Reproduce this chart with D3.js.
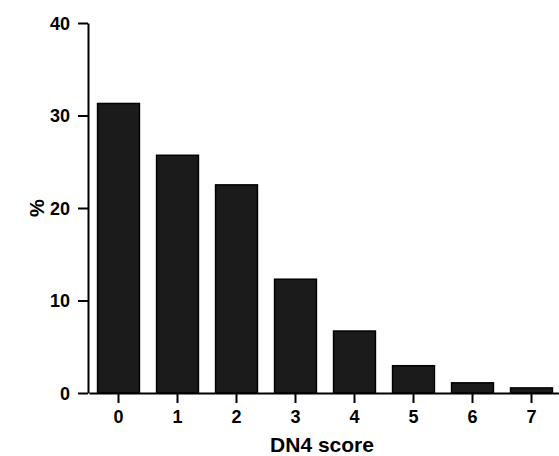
<!DOCTYPE html>
<html>
<head>
<meta charset="utf-8">
<script src="https://cdn.jsdelivr.net/npm/d3@7"></script>
<style>
  body { margin: 0; background: #fff; }
  svg text { font-family: "Liberation Sans", Arial, sans-serif; font-weight: bold; fill: #000; }
  .axis path, .axis line { stroke: #000; stroke-width: 2; }
</style>
</head>
<body>
<svg id="chart" width="559" height="456"></svg>
<script>
// DN4 score distribution
var scores = ["0", "1", "2", "3", "4", "5", "6", "7"];
var percents = [31.3, 25.7, 22.5, 12.3, 6.7, 2.95, 1.1, 0.55];
var yTicks = [0, 10, 20, 30, 40];

var svg = d3.select("#chart");
var x0 = 88, y0 = 393, yTop = 23;

var x = d3.scaleBand()
    .domain(scores)
    .range([89, 561])
    .paddingInner(0.29)
    .paddingOuter(0.145);

var y = d3.scaleLinear()
    .domain([0, 40])
    .range([y0, yTop]);

// bars
svg.append("g").selectAll("rect")
    .data(percents)
    .enter().append("rect")
    .attr("x", function (d, i) { return x(scores[i]); })
    .attr("y", function (d) { return y(d); })
    .attr("width", x.bandwidth())
    .attr("height", function (d) { return y0 - y(d); })
    .attr("fill", "#1b1b1b")
    .attr("stroke", "#000")
    .attr("stroke-width", 1.5);

// y axis
var yAxis = svg.append("g")
    .attr("class", "axis")
    .attr("transform", "translate(" + x0 + ",0)")
    .call(d3.axisLeft(y).tickValues(yTicks).tickSize(10).tickSizeOuter(0).tickPadding(8));
yAxis.selectAll("text").attr("font-size", 18).attr("dy", "0.35em");

// x axis
var xAxis = svg.append("g")
    .attr("class", "axis")
    .attr("transform", "translate(0," + y0 + ")")
    .call(d3.axisBottom(x).tickSize(10).tickSizeOuter(0).tickPadding(7));
xAxis.selectAll("text").attr("font-size", 18);

// titles
svg.append("text")
    .attr("x", 322)
    .attr("y", 452)
    .attr("text-anchor", "middle")
    .attr("font-size", 21)
    .text("DN4 score");

svg.append("text")
    .attr("transform", "translate(44,208) rotate(-90)")
    .attr("text-anchor", "middle")
    .attr("font-size", 20)
    .text("%");
</script>
</body>
</html>
